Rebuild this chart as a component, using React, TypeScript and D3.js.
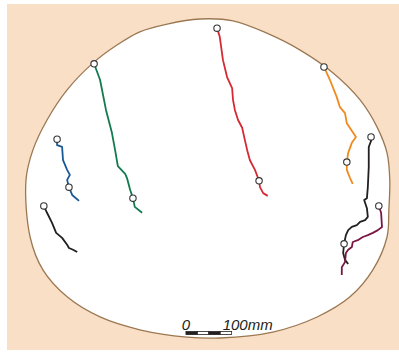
import React from 'react';
import * as d3 from 'd3';

// all positions in mm, origin at the left/top of the section outline
type Pt = [number, number];

const outline: Pt[] = [
  [381, 0], [453, 4], [527, 31], [600, 68], [672, 118], [731, 177], [768, 236], [790, 293],
  [796, 352], [794, 418], [790, 477], [759, 549], [709, 608], [637, 652], [540, 685], [424, 698],
  [352, 696], [249, 680], [162, 652], [90, 608], [37, 549], [9, 477], [0, 352], [15, 287],
  [46, 221], [90, 155], [147, 96], [199, 57], [249, 28], [309, 11],
];

const redTrack: Pt[] = [
  [418, 20], [424, 39], [431, 90], [440, 127], [451, 151], [453, 177], [457, 199], [464, 221],
  [473, 238], [479, 265], [484, 287], [490, 309], [501, 330], [510, 354], [512, 368], [519, 381], [529, 387],
];
const greenTrack: Pt[] = [
  [149, 98], [162, 133], [175, 199], [188, 249], [195, 287], [201, 322], [217, 339], [221, 348],
  [228, 374], [234, 392], [238, 411], [254, 424],
];
const blueTrack: Pt[] = [
  [68, 263], [68, 276], [79, 280], [81, 309], [90, 330], [96, 341], [90, 352], [94, 368], [101, 385], [116, 398],
];
const blackLeftTrack: Pt[] = [
  [39, 409], [46, 424], [57, 446], [66, 468], [79, 479], [90, 494], [94, 501], [103, 505], [112, 510],
];
const orangeTrack: Pt[] = [
  [652, 105], [665, 133], [680, 171], [687, 193], [698, 206], [702, 228], [722, 258], [713, 271],
  [705, 293], [702, 313], [702, 330], [709, 348], [715, 361],
];
const blackRightTrack: Pt[] = [
  [755, 258], [755, 267], [750, 280], [750, 324], [748, 368], [746, 392], [740, 396], [746, 414],
  [748, 433], [742, 440], [731, 444], [724, 451], [713, 455], [705, 462], [700, 473], [696, 492],
  [694, 512], [698, 527], [705, 536],
];
const maroonTrack: Pt[] = [
  [772, 409], [777, 424], [779, 455], [770, 462], [759, 468], [748, 473], [737, 477], [726, 484],
  [715, 488], [713, 499], [705, 505], [700, 512], [698, 532], [691, 543], [691, 560],
];

// index of marked points on each track
const tracks = [
  { pts: redTrack, color: '#d42a33', marks: [0, 13] },
  { pts: greenTrack, color: '#127a4f', marks: [0, 9] },
  { pts: blueTrack, color: '#1a5896', marks: [0, 7] },
  { pts: blackLeftTrack, color: '#231f20', marks: [0] },
  { pts: orangeTrack, color: '#ef8a1f', marks: [0, 9] },
  { pts: blackRightTrack, color: '#231f20', marks: [0, 15] },
  { pts: maroonTrack, color: '#7b1743', marks: [0] },
];

const scaleTicks = [0, 25, 50, 75];

const W = 399;
const H = 354;
const k = 0.457; // px per mm

export default function App() {
  const x = d3.scaleLinear().domain([0, 800]).range([26, 26 + 800 * k]);
  const y = d3.scaleLinear().domain([0, 700]).range([19, 19 + 700 * k]);

  const shape = d3.line<Pt>().x(d => x(d[0])).y(d => y(d[1])).curve(d3.curveCatmullRomClosed.alpha(0.5));
  const track = d3.line<Pt>().x(d => x(d[0])).y(d => y(d[1]));

  const barX0 = 350;
  const barY = 684;

  return (
    <svg width={W} height={H} style={{ position: 'absolute', left: 0, top: 0 }}>
      <rect x={7} y={4} width={W - 7} height={346} fill="#fadfc7" />
      <path d={shape(outline) || ''} fill="#fff" stroke="#9b7852" strokeWidth={1.3} />
      {tracks.map((t, i) => (
        <g key={i}>
          <path d={track(t.pts) || ''} fill="none" stroke={t.color} strokeWidth={1.8} strokeLinejoin="round" />
          {t.marks.map(m => (
            <circle key={m} cx={x(t.pts[m][0])} cy={y(t.pts[m][1])} r={3.2}
              fill="#fff" stroke="#333" strokeWidth={1.1} />
          ))}
        </g>
      ))}
      <g>
        {scaleTicks.map((v, i) => (
          <rect key={v} x={x(barX0 + v)} y={y(barY)} width={x(25) - x(0)} height={3}
            fill={i % 2 === 0 ? '#231f20' : '#fff'} stroke="#231f20" strokeWidth={0.8} />
        ))}
        <text x={x(barX0)} y={330} textAnchor="middle" fontFamily="Liberation Sans, Arial, sans-serif"
          fontStyle="italic" fontSize={15} fill="#231f20">0</text>
        <text x={x(barX0 + 100) - 9} y={330} fontFamily="Liberation Sans, Arial, sans-serif"
          fontStyle="italic" fontSize={15} fill="#231f20">100mm</text>
      </g>
    </svg>
  );
}
